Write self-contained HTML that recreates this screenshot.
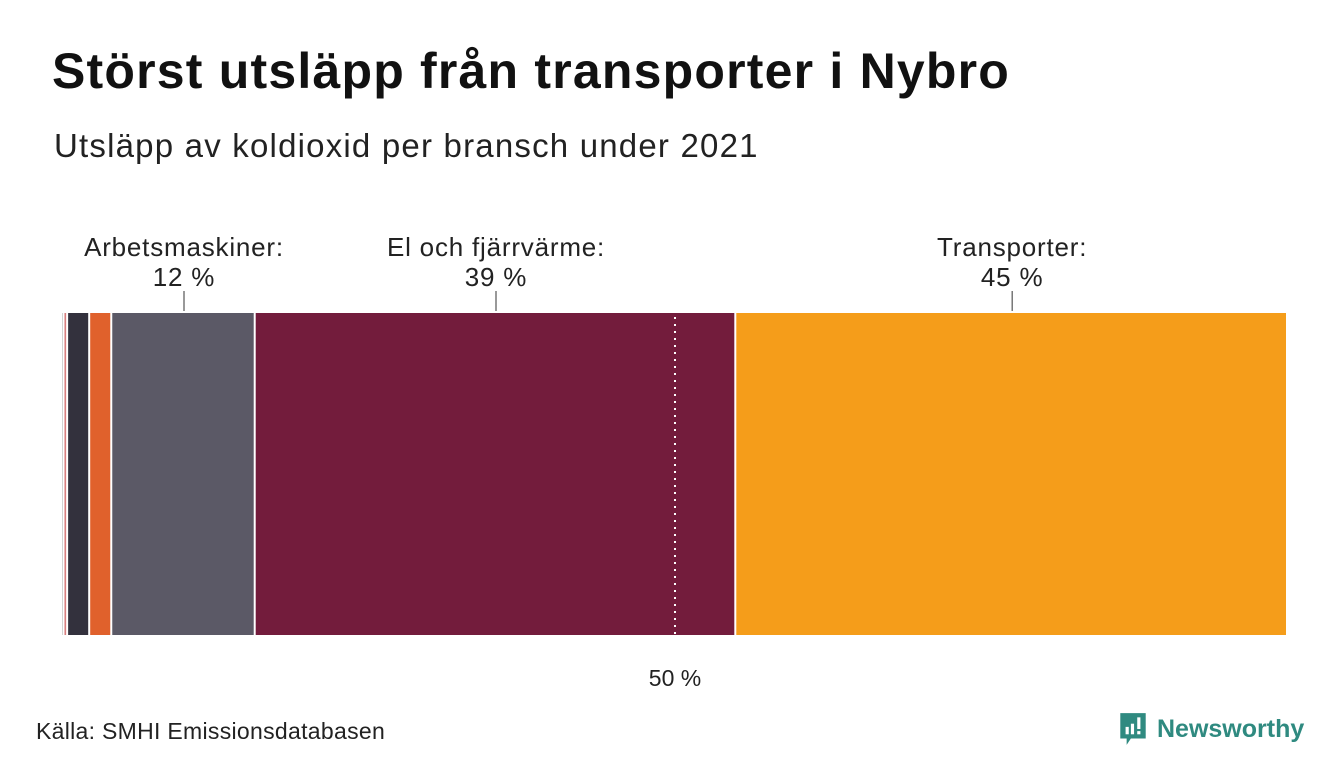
<!DOCTYPE html>
<html><head><meta charset="utf-8"><style>
body{margin:0;width:1340px;height:780px;background:#fff;font-family:"Liberation Sans",sans-serif;position:relative;overflow:hidden}
.t{position:absolute;left:52px;top:42px;font-size:50px;letter-spacing:1.2px;font-weight:bold;color:#111;margin:0;white-space:nowrap}
.s{position:absolute;left:54px;top:127px;font-size:33px;letter-spacing:1.2px;color:#222;white-space:nowrap}
.src{position:absolute;left:36px;top:718px;font-size:23px;letter-spacing:0.3px;color:#222}
.logo{position:absolute;left:1118px;top:711px;display:flex;align-items:center;gap:9px;color:#2f8a80;font-weight:bold;font-size:25px}
</style></head><body>
<h1 class="t">Störst utsläpp från transporter i Nybro</h1>
<div class="s">Utsläpp av koldioxid per bransch under 2021</div>
<svg id="chart" width="1340" height="780" style="position:absolute;left:0;top:0"></svg>
<div class="src">Källa: SMHI Emissionsdatabasen</div>
<div class="logo"><svg width="30" height="36" viewBox="0 0 28 34"><path d="M2 2h24v24H12l-4 6v-6H2z" fill="#2f8a80"/><rect x="7" y="15" width="3" height="7" fill="#fff"/><rect x="12" y="12" width="3" height="10" fill="#fff"/><rect x="18" y="6" width="3" height="11" fill="#fff"/><rect x="18" y="19" width="3" height="3" fill="#fff"/></svg><span>Newsworthy</span></div>
<script>
const categories=["Övrigt","Industri","Jordbruk","Avfall","Arbetsmaskiner","El och fjärrvärme","Transporter"];
const values=[0.2,0.3,1.8,1.8,11.7,39.2,45.0];
const colors=["#c8c8c8","#d98080","#33313d","#e0612c","#5b5966","#731c3c","#f59d1a"];
const labels=["","","","","Arbetsmaskiner:","El och fjärrvärme:","Transporter:"];
const pcts=["","","","","12 %","39 %","45 %"];
const ns="http://www.w3.org/2000/svg";
const svg=document.getElementById('chart');
const X0=62,W=1226,Y0=313,H=322;
const total=values.reduce((a,b)=>a+b,0);
const x=v=>X0+v/total*W;
function mk(t,a){const e=document.createElementNS(ns,t);for(const k in a)e.setAttribute(k,a[k]);svg.appendChild(e);return e;}
let acc=0;
values.forEach((v,i)=>{
 const x1=x(acc),x2=x(acc+v);
 const r=mk('rect',{x:x1,y:Y0,width:Math.max(x2-x1-2,0.8),height:H,fill:colors[i]});
 
 
 if(labels[i]){
  const cx=(x1+x2)/2;
  const l=mk('line',{x1:cx,x2:cx,y1:291,y2:311,stroke:'#333','stroke-width':1});
  
  
  const t=mk('text',{x:cx,y:256,'text-anchor':'middle','font-size':26,'letter-spacing':0.8,fill:'#222'});
  t.textContent=labels[i];
  
  
  const p=mk('text',{x:cx,y:286,'text-anchor':'middle','font-size':26,'letter-spacing':0.8,fill:'#222'});
  p.textContent=pcts[i];
  
  
 }
 acc+=v;
});
const mx=x(total/2);
const ml=mk('line',{x1:mx,x2:mx,y1:Y0+4,y2:Y0+H,stroke:'#fff','stroke-width':2,'stroke-dasharray':'2,5'});


const mt=mk('text',{x:mx,y:686,'text-anchor':'middle','font-size':23,fill:'#222'});
mt.textContent="50 %";


</script>
</body></html>
